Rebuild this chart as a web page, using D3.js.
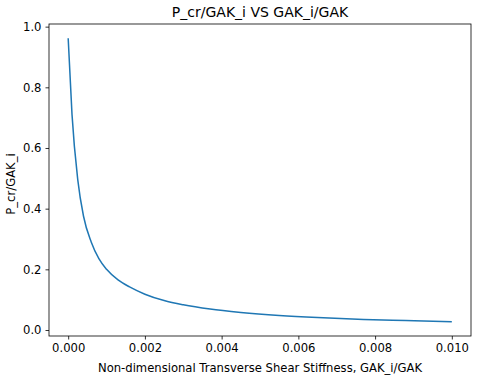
<!DOCTYPE html>
<html>
<head>
<meta charset="utf-8">
<script src="https://cdn.jsdelivr.net/npm/d3@7.9.0/dist/d3.min.js"></script>
<style>
  body { margin: 0; background: #fff; }
  text { font-family: "DejaVu Sans", sans-serif; fill: #000; }
</style>
</head>
<body>
<div id="chart"></div>
<script>
// values
const stiffness = [0.0000, 0.0001, 0.00025, 0.0004, 0.0006, 0.0008, 0.0010, 0.0013, 0.0016,
    0.0020, 0.0025, 0.0030, 0.0037, 0.0045, 0.0055, 0.0065, 0.0077, 0.0088, 0.0100];
const load = [0.962, 0.71, 0.495, 0.375, 0.29, 0.235, 0.200, 0.165, 0.142,
    0.118, 0.097, 0.083, 0.069, 0.058, 0.048, 0.041, 0.035, 0.031, 0.027];
const xTicks = [0, 0.002, 0.004, 0.006, 0.008, 0.010];
const yTicks = [0, 0.2, 0.4, 0.6, 0.8, 1.0];

const width = 483;
const height = 379;
const margin = { top: 24, right: 12, bottom: 43, left: 49 };

const data = stiffness.map((x, i) => ({ x, y: load[i] }));

const svg = d3.select('#chart')
    .append('svg')
    .attr('width', width)
    .attr('height', height);

// matplotlib style 5% padding
function padded(extent) {
    const d = (extent[1] - extent[0]) * 0.05;
    return [extent[0] - d, extent[1] + d];
}

const xScale = d3.scaleLinear()
    .domain(padded(d3.extent(stiffness)))
    .range([margin.left, width - margin.right]);

const yScale = d3.scaleLinear()
    .domain(padded(d3.extent(load)))
    .range([height - margin.bottom, margin.top]);

const xAxis = svg.append('g')
    .attr('transform', `translate(0, ${height - margin.bottom})`)
    .call(d3.axisBottom(xScale).tickValues(xTicks).tickFormat(d3.format('.3f')).tickSize(3.5).tickPadding(4));

const yAxis = svg.append('g')
    .attr('transform', `translate(${margin.left}, 0)`)
    .call(d3.axisLeft(yScale).tickValues(yTicks).tickFormat(d3.format('.1f')).tickSize(3.5).tickPadding(4));

[xAxis, yAxis].forEach((g) => {
    g.select('.domain').remove();
    g.selectAll('text').style('font-size', '11.6px').attr('fill', '#000');
    g.selectAll('line').attr('stroke', '#000').attr('stroke-width', 0.8);
});

// frame
svg.append('rect')
    .attr('x', margin.left)
    .attr('y', margin.top)
    .attr('width', width - margin.left - margin.right)
    .attr('height', height - margin.top - margin.bottom)
    .attr('fill', 'none')
    .attr('stroke', '#000')
    .attr('stroke-width', 0.8);

const line = d3.line()
    .x((d) => xScale(d.x))
    .y((d) => yScale(d.y))
    .curve(d3.curveMonotoneX);

svg.append('path')
    .datum(data)
    .attr('d', line)
    .attr('fill', 'none')
    .attr('stroke', '#1f77b4')
    .attr('stroke-width', 1.5);

// title and labels
svg.append('text')
    .attr('x', (margin.left + width - margin.right) / 2)
    .attr('y', 17)
    .attr('text-anchor', 'middle')
    .style('font-size', '14px')
    .text('P_cr/GAK_i VS GAK_i/GAK');

svg.append('text')
    .attr('x', (margin.left + width - margin.right) / 2)
    .attr('y', 372)
    .attr('text-anchor', 'middle')
    .style('font-size', '11.6px')
    .text('Non-dimensional Transverse Shear Stiffness, GAK_i/GAK');

svg.append('text')
    .attr('transform', 'translate(15, 184) rotate(-90)')
    .attr('text-anchor', 'middle')
    .style('font-size', '11.6px')
    .text('P_cr/GAK_i');
</script>
</body>
</html>
